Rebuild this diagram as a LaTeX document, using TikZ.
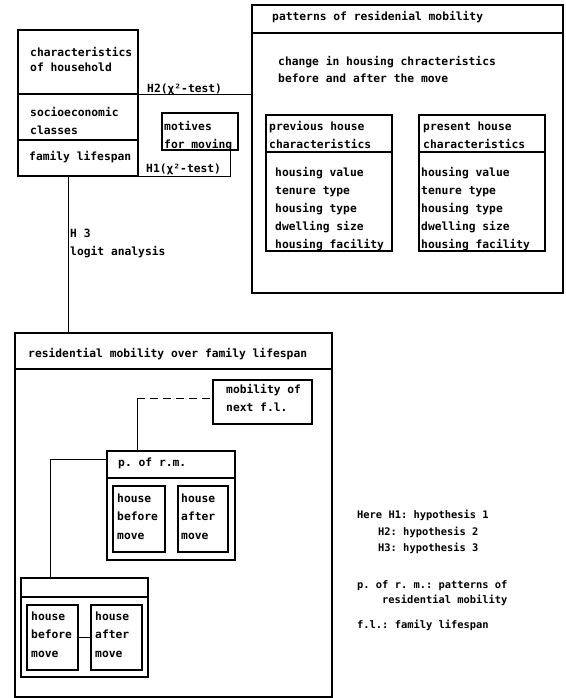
\documentclass[tikz,border=0pt]{standalone}
\usepackage{fontspec}
\setmonofont{DejaVu Sans Mono}
\begin{document}
\begin{tikzpicture}[x=1pt,y=-1pt,
  bx/.style={draw, line width=#1, anchor=north west, inner sep=0pt, outer sep=0pt},
  bx/.default=1.4pt,
  tx/.style={anchor=base west, inner sep=0pt, font=\ttfamily\bfseries\fontsize{11.3}{14}\selectfont},
  lg/.style={anchor=base west, inner sep=0pt, font=\ttfamily\bfseries\fontsize{10.4}{13}\selectfont},
  con/.style={line width=0.9pt}]
\useasboundingbox (0,0) rectangle (565,698);
% left household box
\node[bx=2pt, minimum width=120pt, minimum height=64pt] (hh1) at (18,30) {};
\node[bx=2pt, minimum width=120pt, minimum height=46pt] (hh2) at (18,94) {};
\node[bx=2pt, minimum width=120pt, minimum height=36pt] (hh3) at (18,140) {};
\node[tx] (t1) at (30,57) {characteristics};
\node[tx] (t2) at (30,72) {of household};
\node[tx] (t3) at (30,117) {socioeconomic};
\node[tx] (t4) at (30,135) {classes};
\node[tx] (t5) at (29,160) {family lifespan};
% motives
\node[bx, minimum width=76pt, minimum height=37pt] (mot) at (162,113) {};
\node[tx] (t6) at (164,131) {motives};
\node[tx] (t7) at (164,148) {for moving};
% right box
\node[bx=2.2pt, minimum width=311pt, minimum height=28pt] (rph) at (252,5) {};
\node[bx=2.2pt, minimum width=311pt, minimum height=260pt] (rpm) at (252,33) {};
\node[tx] (t8) at (272,21) {patterns of residenial mobility};
\node[tx] (t9) at (278,66) {change in housing chracteristics};
\node[tx] (t10) at (278,83) {before and after the move};
\node[bx, minimum width=126pt, minimum height=37pt] (pvh) at (266,115) {};
\node[bx, minimum width=126pt, minimum height=99pt] (pvb) at (266,152) {};
\node[bx, minimum width=126pt, minimum height=37pt] (psh) at (419,115) {};
\node[bx, minimum width=126pt, minimum height=99pt] (psb) at (419,152) {};
\node[tx] (p1) at (269,131) {previous house};
\node[tx] (p2) at (269,148) {characteristics};
\node[tx] (q1) at (423,131) {present house};
\node[tx] (q2) at (423,148) {characteristics};
\foreach \t [count=\i] in {housing value,tenure type,housing type,dwelling size,housing facility}{
  \node[tx] (pl\i) at (275,158+18*\i) {\t};
  \node[tx] (ql\i) at (421,158+18*\i) {\t};
}
% connectors H1, H2
\draw[con] (hh1.south east) -- (rpm.west |- hh1.south east);
\node[tx] (h2) at (147,93) {H2(χ²-test)};
\coordinate (h1c) at (230,176);
\draw[con] (hh3.south east) -- (h1c) -- (h1c |- mot.south);
\node[tx] (h1) at (146,172) {H1(χ²-test)};
% H3
\coordinate (h3c) at (68,176);
\node[bx=2.2pt, minimum width=317pt, minimum height=36pt] (rmh) at (15,333) {};
\node[bx=2.2pt, minimum width=317pt, minimum height=328pt] (rmm) at (15,369) {};
\draw[con] (h3c) -- (h3c |- rmh.north);
\node[tx] (h3a) at (70,237) {H 3};
\node[tx] (h3b) at (70,255) {logit analysis};
\node[tx] (t11) at (28,357) {residential mobility over family lifespan};
% next f.l.
\node[bx, minimum width=99pt, minimum height=44pt] (nx) at (213,380) {};
\node[tx] (n1) at (226,393) {mobility of};
\node[tx] (n2) at (226,411) {next f.l.};
% p of r.m.
\node[bx=1.2pt, minimum width=128pt, minimum height=27pt] (pmh) at (107,451) {};
\node[bx=1.2pt, minimum width=128pt, minimum height=82pt] (pmb) at (107,478) {};
\node[tx] (pm) at (118,466) {p. of r.m.};
\node[bx, minimum width=52pt, minimum height=66pt] (pb1) at (113,486) {};
\node[bx, minimum width=50pt, minimum height=66pt] (pa1) at (178,486) {};
\node[tx] (b1a) at (117,502) {house};
\node[tx] (b1b) at (117,520) {before};
\node[tx] (b1c) at (117,539) {move};
\node[tx] (a1a) at (181,502) {house};
\node[tx] (a1b) at (181,520) {after};
\node[tx] (a1c) at (181,539) {move};
% lower
\node[bx=1.2pt, minimum width=127pt, minimum height=19pt] (lwh) at (21,578) {};
\node[bx=1.2pt, minimum width=127pt, minimum height=80pt] (lwb) at (21,597) {};
\node[bx, minimum width=51pt, minimum height=65pt] (pb2) at (27,605) {};
\node[bx, minimum width=51pt, minimum height=65pt] (pa2) at (91,605) {};
\node[tx] (b2a) at (31,620) {house};
\node[tx] (b2b) at (31,638) {before};
\node[tx] (b2c) at (31,657) {move};
\node[tx] (a2a) at (95,620) {house};
\node[tx] (a2b) at (95,638) {after};
\node[tx] (a2c) at (95,657) {move};
\draw[con] (pb2.east) -- (pa2.west);
% connectors inside
\coordinate (dc) at (137,398);
\draw[con, dashed, dash pattern=on 8pt off 5pt] (dc) -- (dc -| nx.west);
\draw[con] (dc) -- (dc |- pmh.north);
\coordinate (lc) at (50,459);
\draw[con] (lc -| pmh.west) -- (lc) -- (lc |- lwh.north);
% legend
\node[lg] (l1) at (357,518) {Here H1: hypothesis 1};
\node[lg] (l2) at (378,535) {H2: hypothesis 2};
\node[lg] (l3) at (378,551) {H3: hypothesis 3};
\node[lg] (l4) at (357,588) {p. of r. m.: patterns of};
\node[lg] (l5) at (382,603) {residential mobility};
\node[lg] (l6) at (357,628) {f.l.: family lifespan};
\end{tikzpicture}
\end{document}
